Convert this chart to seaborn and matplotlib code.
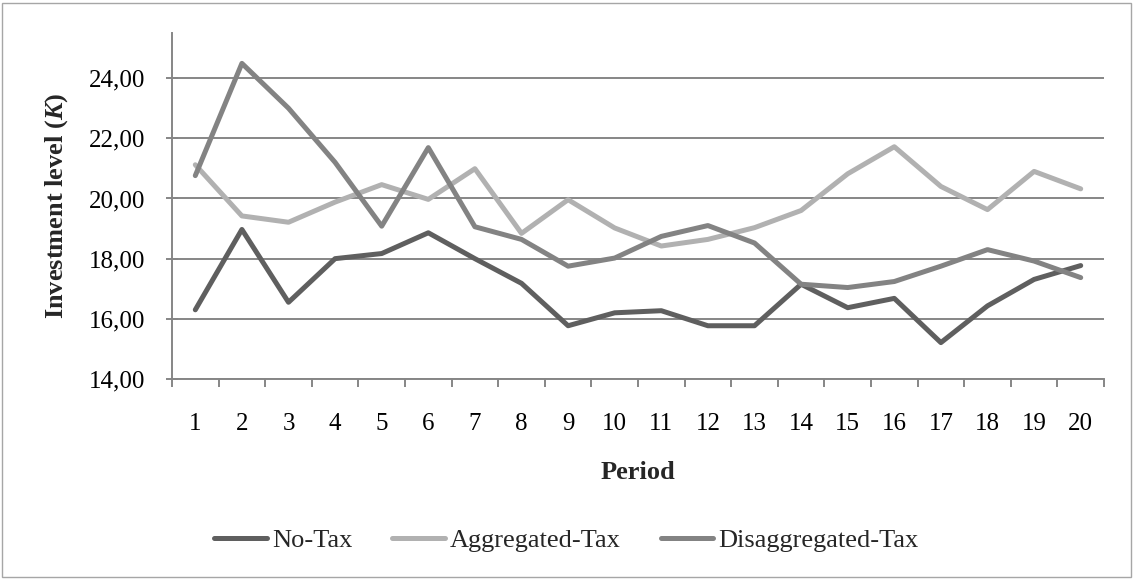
import matplotlib
matplotlib.use("Agg")
import matplotlib.pyplot as plt
from matplotlib.ticker import FuncFormatter, FixedLocator
from matplotlib.patches import Rectangle
from matplotlib.lines import Line2D
import seaborn as sns
import pandas as pd

periods = list(range(1, 21))
no_tax = [16.30, 18.97, 16.55, 18.00, 18.17, 18.86, 18.00, 17.18, 15.77, 16.20,
          16.27, 15.77, 15.77, 17.15, 16.37, 16.68, 15.21, 16.43, 17.31, 17.77]
aggregated_tax = [21.12, 19.42, 19.21, 19.88, 20.46, 19.97, 20.99, 18.84, 19.96, 19.02,
                  18.42, 18.64, 19.03, 19.60, 20.82, 21.72, 20.40, 19.63, 20.90, 20.32]
disaggregated_tax = [20.76, 24.49, 23.00, 21.20, 19.08, 21.69, 19.06, 18.64, 17.75, 18.02,
                     18.74, 19.10, 18.52, 17.15, 17.04, 17.24, 17.75, 18.30, 17.92, 17.37]
series_names = ["No-Tax", "Aggregated-Tax", "Disaggregated-Tax"]
series_colors = ["#5f5f5f", "#b1b1b1", "#838383"]

df = pd.DataFrame({
    "Period": periods * 3,
    "Value": no_tax + aggregated_tax + disaggregated_tax,
    "Series": [s for s in series_names for _ in periods],
})

sns.set_theme(style="white")
plt.rcParams["font.family"] = ["Liberation Serif", "DejaVu Serif"]
plt.rcParams["mathtext.fontset"] = "custom"
plt.rcParams["mathtext.it"] = "Liberation Serif:italic:bold"
plt.rcParams["mathtext.rm"] = "Liberation Serif:bold"

fig = plt.figure(figsize=(11.33, 5.79), dpi=100)
ax = fig.add_axes([172/1133, 1-379/579, (1104-172)/1133, (379-33)/579])

sns.lineplot(data=df, x="Period", y="Value", hue="Series", hue_order=series_names,
             palette=series_colors, linewidth=3.6, ax=ax, legend=False, zorder=3)

grid_c = "#868686"
ax.set_xlim(0.5, 20.5)
ax.set_ylim(14, 25.5)
ax.set_yticks([14, 16, 18, 20, 22, 24])
ax.yaxis.grid(True, color=grid_c, linewidth=1.4, zorder=1)
ax.xaxis.grid(False)
ax.yaxis.set_major_formatter(FuncFormatter(lambda v, p: f"{v:.2f}".replace(".", ",")))
ax.set_xticks(periods)
ax.set_xticklabels([str(p) for p in periods])
ax.xaxis.set_minor_locator(FixedLocator([p + 0.5 for p in range(0, 21)]))
ax.tick_params(axis="x", which="major", length=0, pad=24.5, labelsize=18, colors="black")
ax.tick_params(axis="x", which="minor", length=6, width=1.4, color=grid_c, direction="out", bottom=True)
ax.tick_params(axis="y", which="major", length=9, width=1.4, color=grid_c, direction="inout",
               left=True, pad=15, labelsize=18, labelcolor="black")
for s in ["top", "right"]:
    ax.spines[s].set_visible(False)
for s in ["left", "bottom"]:
    ax.spines[s].set_color(grid_c)
    ax.spines[s].set_linewidth(1.4)

ax.set_xlabel("Period", fontsize=19, fontweight="bold", labelpad=19)
ax.set_ylabel(r"Investment level ($K$)", fontsize=19, fontweight="bold", labelpad=13)

handles = [Line2D([], [], color=c, linewidth=3.6) for c in series_colors]
fig.legend(handles, series_names, loc="center", bbox_to_anchor=(0.5, 1-540/579), ncol=3,
           frameon=False, fontsize=19, handlelength=2.0, handletextpad=0.2, columnspacing=1.5)

fig.patches.append(Rectangle((0.002, 0.003), 0.996, 0.992, transform=fig.transFigure,
                             fill=False, edgecolor="#a6a6a6", linewidth=1.0))
fig.savefig("out.png", dpi=100)
